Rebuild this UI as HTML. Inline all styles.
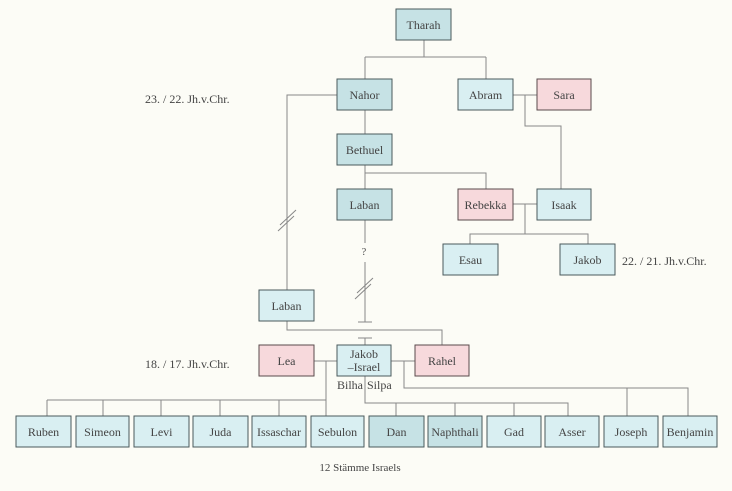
<!DOCTYPE html>
<html><head><meta charset="utf-8"><style>
body{margin:0;background:#fcfcf6;}
svg{display:block}
text{font-family:"Liberation Serif",serif;font-size:12px;fill:#444;}
.b{fill:#d9eff2;stroke:#4a5a5c;stroke-width:1}
.d{fill:#c6e2e5;stroke:#4a5a5c;stroke-width:1}
.p{fill:#f7d9dc;stroke:#5a4a4c;stroke-width:1}
.l{stroke:#888;stroke-width:1;fill:none}
</style></head><body>
<svg width="732" height="491" viewBox="0 0 732 491">
<g class="l">
<path d="M424 40V57M365 57H486M365 57V79M486 57V79"/>
<path d="M337 95H287V290"/>
<path d="M513 95H537M525 95V126H561V189"/>
<path d="M365 110V134M365 165V189M365 173H486V189"/>
<path d="M513 204H537M525 204V234H470V244M525 234H588V244"/>
<path d="M365 220V243M365 262V322M358 322H372M358 338H372M365 338V345"/>
<path d="M287 321V330H442V345"/>
<path d="M314 361H337M326 361V416M47 400H326M47 400V416M103 400V416M161 400V416M220 400V416M279 400V416"/>
<path d="M391 361H415M404 361V388H688V416M627 388V416"/>
<path d="M365 376V403H568V416M396 403V416M455 403V416M514 403V416"/>
<path d="M280 225L296 210M278 231L294 216"/>
<path d="M357 293L373 278M355 299L371 284"/>
</g>
<rect class="d" x="396" y="9" width="55" height="31"/><text x="423.5" y="29" text-anchor="middle">Tharah</text>
<rect class="d" x="337" y="79" width="55" height="31"/><text x="364.5" y="99" text-anchor="middle">Nahor</text>
<rect class="b" x="458" y="79" width="55" height="31"/><text x="485.5" y="99" text-anchor="middle">Abram</text>
<rect class="p" x="537" y="79" width="54" height="31"/><text x="564" y="99" text-anchor="middle">Sara</text>
<rect class="d" x="337" y="134" width="55" height="31"/><text x="364.5" y="154" text-anchor="middle">Bethuel</text>
<rect class="d" x="337" y="189" width="55" height="31"/><text x="364.5" y="209" text-anchor="middle">Laban</text>
<rect class="p" x="458" y="189" width="55" height="31"/><text x="485.5" y="209" text-anchor="middle">Rebekka</text>
<rect class="b" x="537" y="189" width="54" height="31"/><text x="564" y="209" text-anchor="middle">Isaak</text>
<rect class="b" x="443" y="244" width="55" height="31"/><text x="470.5" y="264" text-anchor="middle">Esau</text>
<rect class="b" x="560" y="244" width="55" height="31"/><text x="587.5" y="264" text-anchor="middle">Jakob</text>
<rect class="b" x="259" y="290" width="55" height="31"/><text x="286.5" y="310" text-anchor="middle">Laban</text>
<rect class="p" x="259" y="345" width="55" height="31"/><text x="286.5" y="365" text-anchor="middle">Lea</text>
<rect class="b" x="337" y="345" width="54" height="31"/><text x="364" y="358" text-anchor="middle">Jakob</text><text x="364" y="371" text-anchor="middle">–Israel</text>
<rect class="p" x="415" y="345" width="54" height="31"/><text x="442" y="365" text-anchor="middle">Rahel</text>
<text x="364" y="255" text-anchor="middle" style="font-size:10px">?</text>
<text x="337" y="389">Bilha</text><text x="367" y="389">Silpa</text>
<g>
<rect class="b" x="16" y="416" width="55" height="31"/><text x="43.5" y="436" text-anchor="middle">Ruben</text>
<rect class="b" x="76" y="416" width="53" height="31"/><text x="102.5" y="436" text-anchor="middle">Simeon</text>
<rect class="b" x="134" y="416" width="55" height="31"/><text x="161.5" y="436" text-anchor="middle">Levi</text>
<rect class="b" x="193" y="416" width="55" height="31"/><text x="220.5" y="436" text-anchor="middle">Juda</text>
<rect class="b" x="252" y="416" width="54" height="31"/><text x="279" y="436" text-anchor="middle">Issaschar</text>
<rect class="b" x="311" y="416" width="53" height="31"/><text x="337.5" y="436" text-anchor="middle">Sebulon</text>
<rect class="d" x="369" y="416" width="55" height="31"/><text x="396.5" y="436" text-anchor="middle">Dan</text>
<rect class="d" x="428" y="416" width="54" height="31"/><text x="455" y="436" text-anchor="middle">Naphthali</text>
<rect class="b" x="487" y="416" width="54" height="31"/><text x="514" y="436" text-anchor="middle">Gad</text>
<rect class="b" x="545" y="416" width="54" height="31"/><text x="572" y="436" text-anchor="middle">Asser</text>
<rect class="b" x="604" y="416" width="54" height="31"/><text x="631" y="436" text-anchor="middle">Joseph</text>
<rect class="b" x="663" y="416" width="54" height="31"/><text x="690" y="436" text-anchor="middle">Benjamin</text>
</g>
<text x="145" y="103">23. / 22. Jh.v.Chr.</text>
<text x="622" y="265">22. / 21. Jh.v.Chr.</text>
<text x="145" y="368">18. / 17. Jh.v.Chr.</text>
<text x="360" y="471" text-anchor="middle" style="font-size:11px">12 Stämme Israels</text>
</svg>
</body></html>
